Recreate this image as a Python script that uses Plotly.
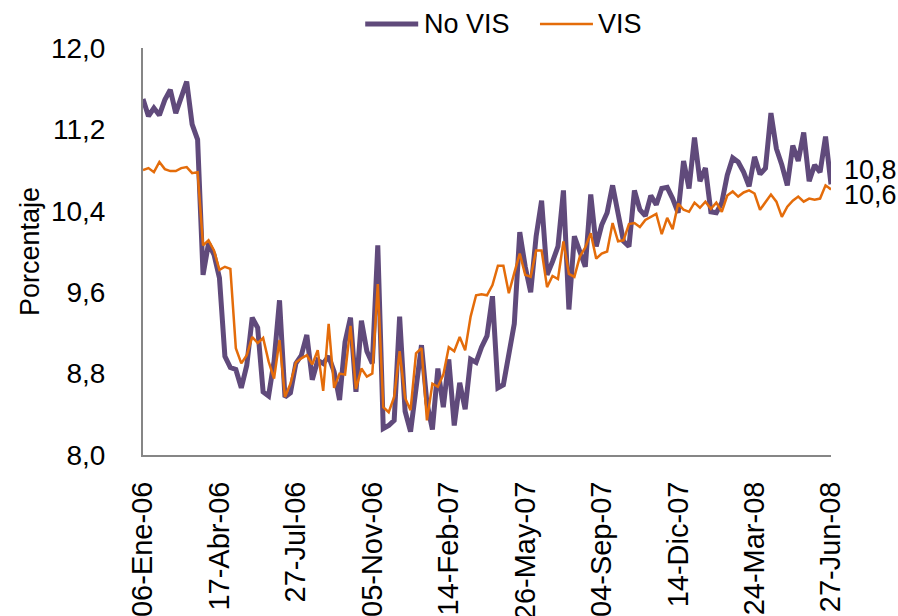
import plotly.graph_objects as go

# weekly series (percent)
no_vis = [
    11.50, 11.33, 11.41, 11.34, 11.49, 11.59, 11.36, 11.52, 11.67, 11.25,
    11.10, 9.77, 10.08, 9.97, 9.74, 8.97, 8.86, 8.84, 8.66, 8.88,
    9.35, 9.25, 8.62, 8.58, 8.92, 9.52, 8.57, 8.61, 8.90, 8.98,
    9.18, 8.74, 8.93, 8.90, 8.97, 8.82, 8.54, 9.11, 9.35, 8.62,
    9.32, 9.02, 8.90, 10.06, 8.26, 8.29, 8.34, 9.36, 8.43, 8.23,
    8.67, 9.08, 8.51, 8.25, 8.85, 8.47, 8.94, 8.29, 8.71, 8.45,
    8.94, 8.91, 9.06, 9.17, 9.56, 8.66, 8.69, 9.00, 9.29, 10.19,
    9.85, 9.60, 10.15, 10.50, 9.77, 9.90, 10.05, 10.60, 9.43, 10.15,
    9.98, 9.85, 10.56, 10.05, 10.26, 10.38, 10.65, 10.34, 10.10, 10.05,
    10.60, 10.41, 10.35, 10.55, 10.46, 10.62, 10.63, 10.52, 10.38, 10.89,
    10.62, 11.12, 10.69, 10.82, 10.39, 10.38, 10.48, 10.75, 10.92, 10.88,
    10.78, 10.64, 10.93, 10.76, 10.82, 11.36, 11.01, 10.85, 10.65, 11.04,
    10.89, 11.17, 10.69, 10.85, 10.78, 11.13, 10.66,
]
vis = [
    10.80, 10.82, 10.78, 10.88, 10.81, 10.79, 10.79, 10.82, 10.83, 10.77,
    10.78, 10.06, 10.11, 10.01, 9.82, 9.85, 9.83, 9.05, 8.90, 8.98,
    9.16, 9.10, 9.15, 8.92, 8.75, 9.13, 8.57, 8.70, 8.91, 8.95,
    8.98, 8.89, 9.03, 8.63, 9.29, 8.66, 8.80, 8.79, 9.27, 8.65,
    8.85, 8.77, 8.80, 9.68, 8.47, 8.42, 8.57, 9.02, 8.56, 8.44,
    9.00, 9.05, 8.34, 8.70, 8.67, 8.79, 9.06, 9.02, 9.16, 9.03,
    9.36, 9.57, 9.58, 9.57, 9.67, 9.86, 9.86, 9.59, 9.79, 9.98,
    9.77, 9.75, 10.01, 10.01, 9.65, 9.76, 9.73, 10.10, 9.78, 9.75,
    9.95, 10.04, 10.18, 9.93, 9.98, 10.00, 10.28, 10.10, 10.11, 10.27,
    10.28, 10.24, 10.31, 10.34, 10.37, 10.17, 10.33, 10.22, 10.47, 10.41,
    10.39, 10.48, 10.43, 10.49, 10.42, 10.48, 10.39, 10.55, 10.59, 10.54,
    10.58, 10.60, 10.57, 10.41, 10.48, 10.56, 10.49, 10.34, 10.44, 10.50,
    10.54, 10.49, 10.52, 10.51, 10.52, 10.65, 10.61,
]

# category axis: a label every 14 observations
tick_step = 14
tick_labels = [
    "06-Ene-06", "17-Abr-06", "27-Jul-06", "05-Nov-06", "14-Feb-07",
    "26-May-07", "04-Sep-07", "14-Dic-07", "24-Mar-08", "27-Jun-08",
]
y_ticks = [8.0, 8.8, 9.6, 10.4, 11.2, 12.0]

# end labels as shown on the chart
end_labels = [("10,8", 10.80), ("10,6", 10.555)]

PURPLE = "#604A7B"
ORANGE = "#E46C0A"
AXIS_GREY = "#868686"
FONT = "Liberation Sans, Arial, sans-serif"

x = list(range(len(no_vis)))

fig = go.Figure()
fig.add_trace(go.Scatter(x=x, y=no_vis, mode="lines", name="No VIS",
                         line=dict(color=PURPLE, width=5), showlegend=False))
fig.add_trace(go.Scatter(x=x, y=vis, mode="lines", name="VIS",
                         line=dict(color=ORANGE, width=2.5), showlegend=False))

for text, yval in end_labels:
    fig.add_annotation(x=x[-1], y=yval, text=text, showarrow=False,
                       xanchor="left", yanchor="middle", xshift=11,
                       font=dict(size=27, color="black", family=FONT))

# legend drawn by hand so the line samples are as long as in the original
legend_items = [("No VIS", PURPLE, 5, 0.323), ("VIS", ORANGE, 2.5, 0.577)]
legend_y = 1.059
for name, color, width, x0 in legend_items:
    fig.add_shape(type="line", xref="paper", yref="paper",
                  x0=x0, x1=x0 + 0.077, y0=legend_y, y1=legend_y,
                  line=dict(color=color, width=width))
    fig.add_annotation(xref="paper", yref="paper", x=x0 + 0.082, y=legend_y,
                       text=name, showarrow=False, xanchor="left", yanchor="middle",
                       font=dict(size=27, color="black", family=FONT))

fig.update_xaxes(
    range=[0, len(no_vis) - 1],
    tickvals=[i * tick_step for i in range(len(tick_labels))],
    ticktext=tick_labels,
    tickangle=-90,
    ticks="",
    ticklabelstandoff=13,
    showline=True, linecolor=AXIS_GREY, linewidth=2,
    showgrid=False, zeroline=False,
    tickfont=dict(size=29, color="black"),
)
fig.update_yaxes(
    range=[8, 12],
    tickvals=y_ticks,
    tickformat=".1f",
    ticks="",
    ticklabelstandoff=30,
    showline=True, linecolor=AXIS_GREY, linewidth=2,
    showgrid=False, zeroline=False,
    tickfont=dict(size=28, color="black"),
    title=dict(text="Porcentaje", font=dict(size=27, color="black"), standoff=3),
)

fig.update_layout(
    width=898, height=616,
    margin=dict(l=143, r=67, t=48, b=161, autoexpand=False),
    separators=",.",
    font=dict(family=FONT, color="black"),
    plot_bgcolor="white",
    paper_bgcolor="white",
    showlegend=False,
)

# drop the default body margin so the figure fills the window exactly
fig.write_html(
    "out.html",
    config={"displayModeBar": False},
    post_script="document.body.style.margin = '0';",
)
